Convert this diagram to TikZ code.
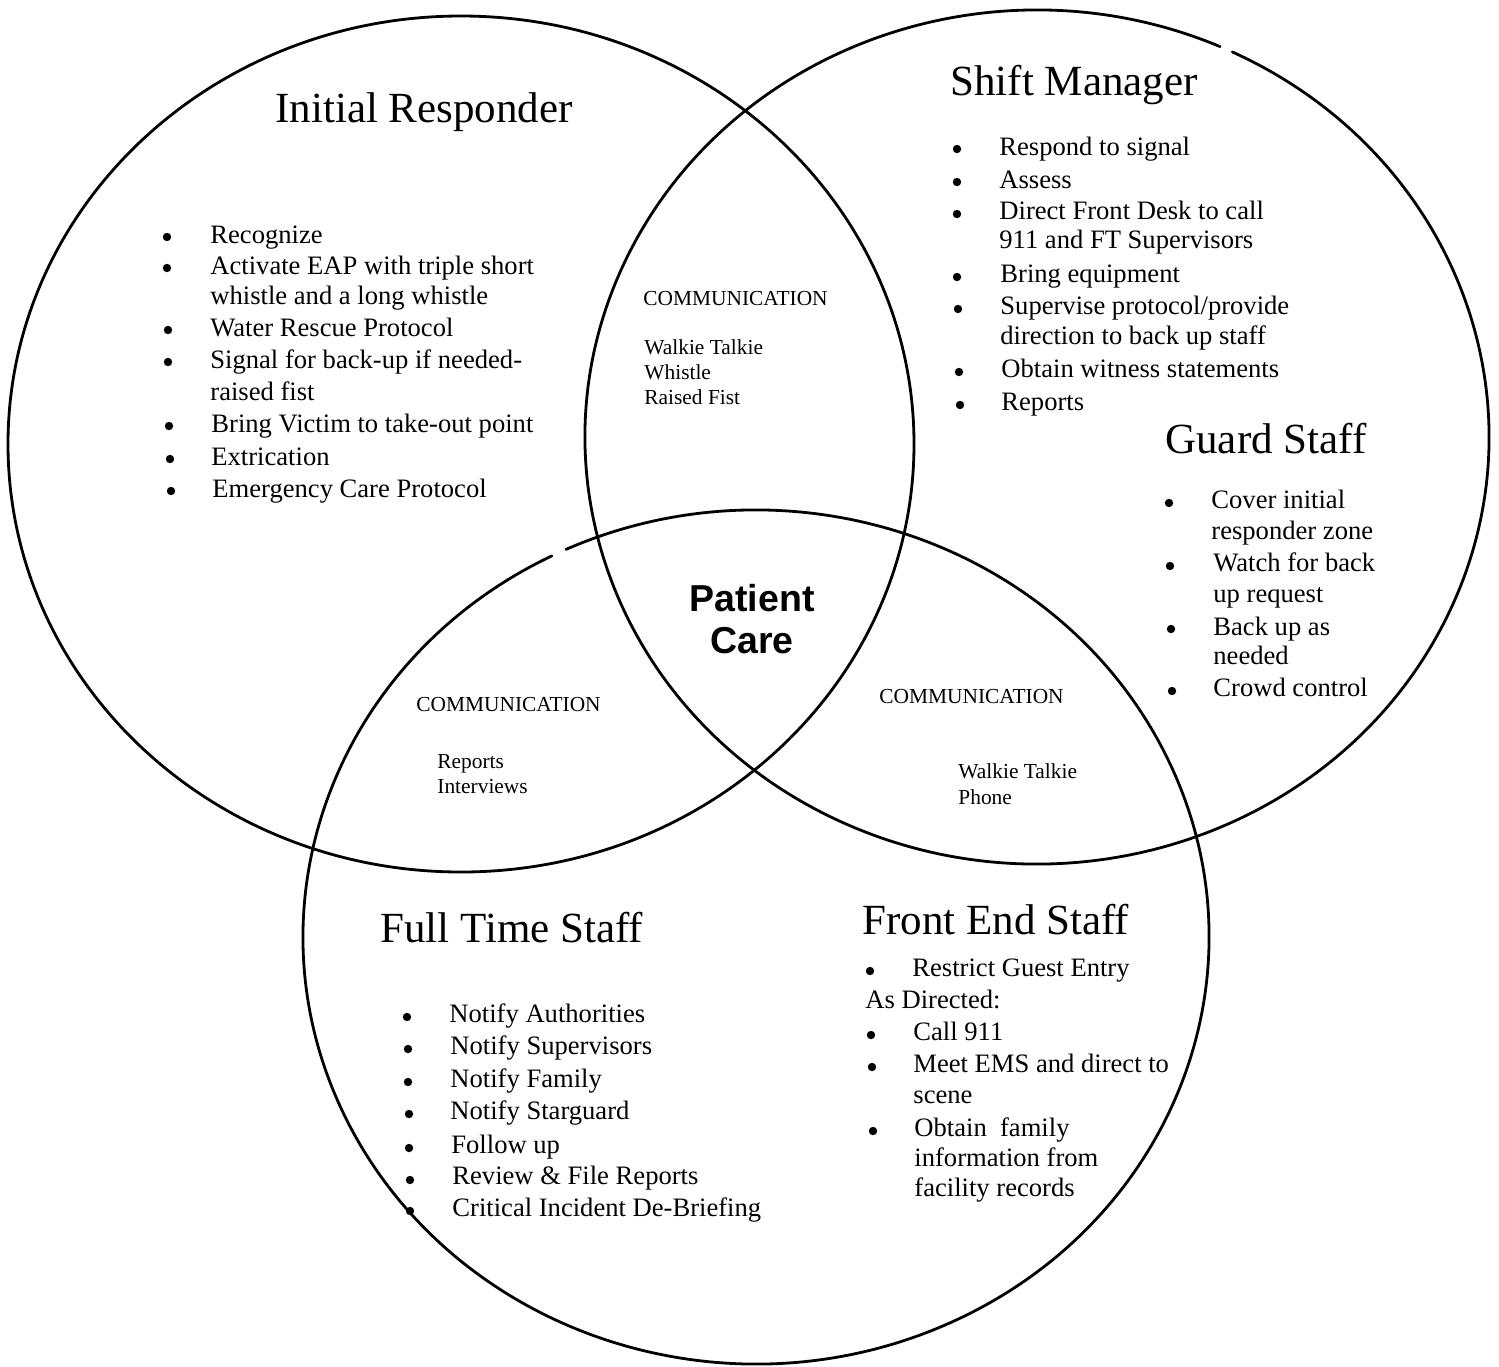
\documentclass[tikz,border=0pt]{standalone}
\usepackage{fontspec}
\setmainfont{Liberation Serif}
\newfontfamily\pcfont{Liberation Sans}
\tikzset{
  ring/.style={line width=1.4pt, line cap=round},
  ttl/.style={anchor=base west, inner sep=0pt, font=\fontsize{21.5}{26}\selectfont},
  txt/.style={anchor=base west, inner sep=0pt, font=\fontsize{13.3}{16}\selectfont},
  com/.style={anchor=base west, inner sep=0pt, font=\fontsize{10.7}{13}\selectfont},
  pc/.style={anchor=base, inner sep=0pt, font=\pcfont\bfseries\fontsize{18.75}{22}\selectfont},
  bdot/.style={circle, fill=black, inner sep=0pt, minimum size=4.2pt}
}
\newcommand\tl[4]{\node[txt] (#1) at (#2,#3) {#4};}
\newcommand\bd[3]{\node[bdot] (#1) at (#2,#3) {};}
\begin{document}
\begin{tikzpicture}[x=0.5pt,y=-0.5pt]
\useasboundingbox (0,0) rectangle (1499,1366);
% circles
\draw[ring] (461,444) ellipse [x radius=453, y radius=428];
\draw[ring] (1037,437) ++(-64.4:452 and 427) arc[start angle=-64.4, end angle=293.9, x radius=452, y radius=427];
\draw[ring] (756,937) ++(-114.8:453 and 427) arc[start angle=-114.8, end angle=243.2, x radius=453, y radius=427];

% Initial Responder
\node[ttl] (irt) at (275,122) {Initial Responder};
\bd{irb1}{167}{237}\tl{ir1}{210}{243}{Recognize}
\bd{irb2}{167}{268}\tl{ir2}{210}{274}{Activate EAP with triple short}
\tl{ir2b}{210}{304}{whistle and a long whistle}
\bd{irb3}{168}{330}\tl{ir3}{210}{336}{Water Rescue Protocol}
\bd{irb4}{168}{362}\tl{ir4}{210}{368}{Signal for back-up if needed-}
\tl{ir4b}{210}{400}{raised fist}
\bd{irb5}{169}{426}\tl{ir5}{211}{432}{Bring Victim to take-out point}
\bd{irb6}{170}{459}\tl{ir6}{211}{465}{Extrication}
\bd{irb7}{171}{491}\tl{ir7}{212}{497}{Emergency Care Protocol}

% Shift Manager
\node[ttl] (smt) at (950,95) {Shift Manager};
\bd{smb1}{957}{149}\tl{sm1}{999}{155}{Respond to signal}
\bd{smb2}{957}{182}\tl{sm2}{999}{188}{Assess}
\bd{smb3}{957}{214}\tl{sm3}{999}{219}{Direct Front Desk to call}
\tl{sm3b}{999}{248}{911 and FT Supervisors}
\bd{smb4}{957}{277}\tl{sm4}{1000}{282}{Bring equipment}
\bd{smb5}{958}{309}\tl{sm5}{1000}{314}{Supervise protocol/provide}
\tl{sm5b}{1000}{344}{direction to back up staff}
\bd{smb6}{959}{372}\tl{sm6}{1001}{377}{Obtain witness statements}
\bd{smb7}{960}{405}\tl{sm7}{1001}{410}{Reports}

% Guard Staff
\node[ttl] (gst) at (1165,453) {Guard Staff};
\bd{gsb1}{1169}{503}\tl{gs1}{1211}{508}{Cover initial}
\tl{gs1b}{1211}{539}{responder zone}
\bd{gsb2}{1170}{566}\tl{gs2}{1213}{571}{Watch for back}
\tl{gs2b}{1213}{602}{up request}
\bd{gsb3}{1171}{629}\tl{gs3}{1213}{635}{Back up as}
\tl{gs3b}{1213}{664}{needed}
\bd{gsb4}{1172}{691}\tl{gs4}{1213}{696}{Crowd control}

% Full Time Staff
\node[ttl] (ftt) at (380,942) {Full Time Staff};
\bd{ftb1}{407}{1017}\tl{ft1}{449}{1022}{Notify Authorities}
\bd{ftb2}{408}{1049}\tl{ft2}{450}{1054}{Notify Supervisors}
\bd{ftb3}{408}{1082}\tl{ft3}{450}{1087}{Notify Family}
\bd{ftb4}{409}{1114}\tl{ft4}{450}{1119}{Notify Starguard}
\bd{ftb5}{409}{1148}\tl{ft5}{451}{1153}{Follow up}
\bd{ftb6}{410}{1180}\tl{ft6}{452}{1184}{Review \& File Reports}
\bd{ftb7}{410}{1211}\tl{ft7}{452}{1216}{Critical Incident De-Briefing}

% Front End Staff
\node[ttl] (fet) at (862,934) {Front End Staff};
\bd{feb1}{870}{971}\tl{fe1}{912}{976}{Restrict Guest Entry}
\tl{fe0}{865}{1008}{As Directed:}
\bd{feb2}{871}{1035}\tl{fe2}{913}{1040}{Call 911}
\bd{feb3}{872}{1067}\tl{fe3}{913}{1072}{Meet EMS and direct to}
\tl{fe3b}{913}{1103}{scene}
\bd{feb4}{873}{1131}\tl{fe4}{914}{1136}{Obtain\ \ family}
\tl{fe4b}{914}{1166}{information from}
\tl{fe4c}{914}{1196}{facility records}

% Communication (top)
\node[com] (c1) at (643,305) {COMMUNICATION};
\node[com] (c1a) at (644,354) {Walkie Talkie};
\node[com] (c1b) at (644,379) {Whistle};
\node[com] (c1c) at (644,404) {Raised Fist};
% Communication (left)
\node[com] (c2) at (416,711) {COMMUNICATION};
\node[com] (c2a) at (437,768) {Reports};
\node[com] (c2b) at (437,793) {Interviews};
% Communication (right)
\node[com] (c3) at (879,703) {COMMUNICATION};
\node[com] (c3a) at (958,778) {Walkie Talkie};
\node[com] (c3b) at (958,804) {Phone};

% Patient Care
\node[pc] (pc1) at (752,611) {Patient};
\node[pc] (pc2) at (752,653) {Care};
\end{tikzpicture}
\end{document}
